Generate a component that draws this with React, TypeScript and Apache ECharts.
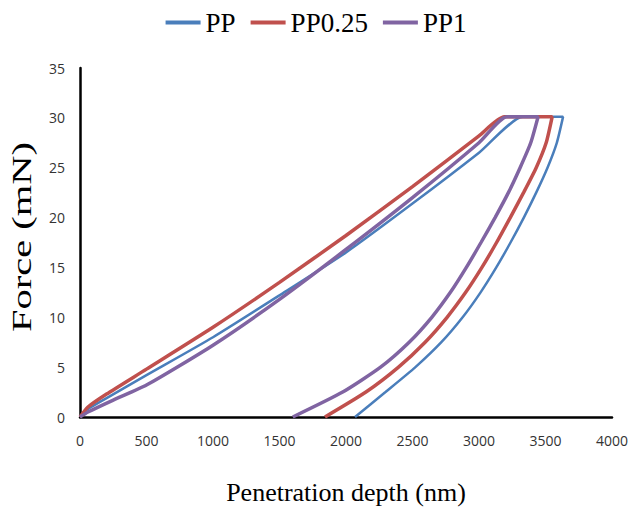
import React, { useEffect, useRef } from "react";
import * as echarts from "echarts";

const seriesNames = ["PP", "PP0.25", "PP1"];
const colors = ["#4a7ebb", "#c0504d", "#8064a2"];
const xTitle = "Penetration depth (nm)";
const yTitle = "Force (mN)";

// [depth (nm), force (mN)] — loading, hold at peak, unloading
const ppCurve: number[][] = [
  [0, 0], [60, 0.8], [200, 1.9], [500, 4.2], [1000, 8.0], [1500, 12.2],
  [2000, 16.5], [2500, 21.4], [3000, 26.5], [3330, 30.1],
  [3632, 30.1], [3585, 27.5], [3515, 25.0], [3430, 22.5], [3337, 20.0],
  [3237, 17.5], [3130, 15.0], [3012, 12.5], [2877, 10.0], [2717, 7.5],
  [2522, 5.0], [2297, 2.5], [2068, 0],
];
const pp025Curve: number[][] = [
  [0, 0], [60, 1.0], [200, 2.3], [500, 4.8], [1000, 9.0], [1500, 13.5],
  [2000, 18.2], [2500, 23.1], [3000, 28.2], [3190, 30.1],
  [3550, 30.1], [3505, 27.5], [3430, 25.0], [3335, 22.5], [3235, 20.0],
  [3132, 17.5], [3022, 15.0], [2900, 12.5], [2760, 10.0], [2595, 7.5],
  [2395, 5.0], [2150, 2.5], [1842, 0],
];
const pp1Curve: number[][] = [
  [0, 0], [60, 0.5], [250, 1.7], [500, 3.2], [1000, 7.2], [1500, 11.8],
  [2000, 16.8], [2500, 22.0], [3000, 27.5], [3210, 30.1],
  [3444, 30.1], [3389, 27.5], [3309, 25.0], [3221, 22.5], [3121, 20.0],
  [3015, 17.5], [2905, 15.0], [2785, 12.5], [2645, 10.0], [2475, 7.5],
  [2260, 5.0], [1975, 2.5], [1600, 0],
];
const curves = [ppCurve, pp025Curve, pp1Curve];
const lineWidths = [2.5, 3.5, 3.5];

export default function App() {
  const ref = useRef<HTMLDivElement>(null);
  useEffect(() => {
    if (!ref.current) return;
    const chart = echarts.init(ref.current, undefined, { renderer: "svg" });
    chart.setOption({
      animation: false,
      backgroundColor: "#ffffff",
      legend: {
        top: 4,
        left: "center",
        itemWidth: 35,
        itemHeight: 4,
        itemGap: 15,
        icon: "rect",
        textStyle: { fontFamily: "Liberation Serif", fontSize: 27, lineHeight: 26, color: "#000" },
        data: seriesNames,
      },
      grid: { left: 80, right: 20, top: 68, bottom: 94 },
      graphic: [
        {
          type: "text",
          x: 22,
          y: 237,
          rotation: Math.PI / 2,
          scaleX: 1.5,
          style: {
            text: yTitle,
            font: "27px 'Liberation Serif'",
            fill: "#000",
            align: "center",
            verticalAlign: "middle",
          },
        },
      ],
      xAxis: {
        type: "value",
        min: 0,
        max: 4000,
        interval: 500,
        name: xTitle,
        nameLocation: "middle",
        nameGap: 62,
        nameTextStyle: { fontFamily: "Liberation Serif", fontSize: 26, color: "#000" },
        axisLine: { show: true, lineStyle: { color: "#000", width: 2.5 } },
        axisTick: { show: false },
        splitLine: { show: false },
        axisLabel: {
          margin: 16,
          fontFamily: "Open Sans",
          fontSize: 14,
          color: "#333",
          formatter: (v: number) => String(v),
        },
      },
      yAxis: {
        type: "value",
        min: 0,
        max: 35,
        interval: 5,
        axisLine: { show: true, lineStyle: { color: "#000", width: 2.5 } },
        axisTick: { show: false },
        splitLine: { show: false },
        axisLabel: {
          margin: 15,
          fontFamily: "Open Sans",
          fontSize: 14,
          color: "#333",
          formatter: (v: number) => String(v),
        },
      },
      series: seriesNames.map((name, i) => ({
        name,
        type: "line",
        data: curves[i],
        showSymbol: false,
        symbol: "none",
        smooth: 0.2,
        color: colors[i],
        lineStyle: { width: lineWidths[i], color: colors[i] },
        z: 2 + i,
      })),
    });
    return () => chart.dispose();
  }, []);
  return (
    <div
      ref={ref}
      style={{ position: "fixed", left: 0, top: 0, width: 632, height: 511 }}
    />
  );
}
